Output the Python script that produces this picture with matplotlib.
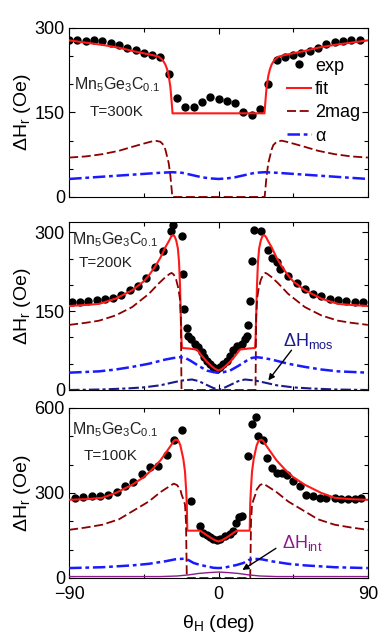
import matplotlib
matplotlib.use("Agg")
import matplotlib.pyplot as plt
from matplotlib.ticker import MultipleLocator

plt.rcParams['font.family'] = ['Liberation Sans', 'DejaVu Sans']
plt.rcParams['mathtext.default'] = 'regular'
plt.rcParams['axes.unicode_minus'] = True

# ---- panel 1, T=300K ----
th1_exp = [-90, -85, -80, -75, -70, -65, -60, -55, -50, -45, -40, -35, -30, -25, -20, -15, -10, -5,
           0, 5, 10, 15, 20, 25, 30, 35, 40, 45, 50, 55, 60, 65, 70, 75, 80, 85]
v1_exp = [279, 279, 277, 279, 276, 274, 270, 264, 261, 255, 252, 248, 218, 176, 160, 160, 168, 178,
          174, 170, 166, 150, 146, 156, 200, 243, 248, 252, 255, 259, 264, 271, 275, 277, 279, 279]
th1_fit = [-90, -80, -70, -60, -50, -40, -36, -34, -33, -32, -31, -30, -29, -28.5, -28, -27.7,
           27.7, 28, 28.5, 29, 30, 31, 32, 33, 34, 36, 40, 50, 60, 70, 80, 90]
v1_fit = [278, 274, 270, 265, 258, 252, 249, 244, 240, 235, 227, 215, 195, 178, 160, 148.5,
          148.5, 160, 178, 195, 215, 227, 235, 240, 244, 249, 252, 258, 265, 270, 274, 278]
th1_2mag = [-90, -80, -70, -60, -52, -46, -41, -38, -35, -33, -32, -31, -30, -29, -28.5, -27.8,
            27.8, 28.5, 29, 30, 31, 32, 33, 35, 38, 41, 46, 52, 60, 70, 80, 90]
v1_2mag = [70, 72, 76, 82, 89, 94, 98, 100, 98, 92, 84, 72, 60, 38, 22, 0,
           0, 22, 38, 60, 72, 84, 92, 98, 100, 98, 94, 89, 82, 76, 72, 70]
th1_a = [-90, -75, -60, -45, -35, -28, -22, -16, -10, -5, 0, 5, 10, 16, 22, 28, 35, 45, 60, 75, 90]
v1_a = [32, 35, 38, 41, 43, 44, 43, 39, 35, 33, 32, 33, 35, 39, 43, 44, 43, 41, 38, 35, 32]

# ---- panel 2, T=200K ----
th2_exp = [-88.5, -83.5, -78.5, -73.5, -68.5, -63.5, -58.5, -53.5, -48.5, -43.5, -38.5, -33.5,
           -28.6, -27.6, -22.2, -21.2, -20.5, -19.1, -18.2, -16.7, -14.1, -12.1, -10.1, -8.7,
           -7.1, -5.1, -3.1, -1.1, 0.9, 2.9, 4.9, 6.9, 8.9, 11.3, 14, 16, 17.3, 17.9, 19, 20,
           21.5, 25.5, 30, 32, 35, 37, 42, 47, 52, 57, 62, 67, 72, 77, 82, 87]
v2_exp = [167, 168, 169, 171, 173, 176, 181, 190, 199, 213, 235, 264,
          302, 314, 293, 221, 154, 119, 103, 97, 88, 81, 72, 62,
          56, 50, 43, 40, 43, 50, 56, 65, 77, 83, 88, 97, 103, 123, 170, 246,
          305, 302, 266, 251, 243, 231, 217, 204, 192, 183, 179, 174, 171, 169, 167, 167]
th2_fit = [-90, -80, -72, -62, -52, -45, -42, -38, -35, -32, -30, -28.5, -27.5, -26.5, -25.5,
           -24.5, -23.8, -23.2, -22.7, -22.3, -22, -18, -13, -10, -7, -4, -2, 0,
           2, 4, 7, 10, 13, 18, 22, 22.3, 22.7, 23.2, 23.8, 24.5, 25.5, 26.5, 27.5, 28.5, 30,
           32, 35, 38, 42, 45, 52, 62, 72, 80, 90]
v2_fit = [160, 162, 164, 174, 190, 207, 218, 236, 252, 272, 283, 292, 295, 293, 285,
          270, 245, 200, 140, 95, 80, 79, 77, 65, 54, 45, 40, 37,
          40, 45, 54, 65, 77, 79, 80, 95, 140, 200, 245, 270, 285, 293, 295, 292, 283,
          272, 252, 236, 218, 207, 190, 174, 164, 162, 160]
th2_2mag = [-90, -80, -72, -62, -52, -42, -36, -32, -29.5, -28.3, -27, -25.5, -24.3, -23.3, -22.7,
            -22.3, 22.3, 22.7, 23.3, 24.3, 25.5, 27, 28.3, 29.5, 32, 36, 42, 52, 62, 72, 80, 90]
v2_2mag = [124, 128, 132, 142, 158, 183, 203, 215, 221, 223, 220, 210, 195, 175, 140,
           0, 0, 140, 175, 195, 210, 220, 223, 221, 215, 203, 183, 158, 142, 132, 128, 124]
th2_a = [-90, -72, -62, -52, -42, -32, -27, -23, -20, -17, -12, -7, -3, 0,
         3, 7, 12, 17, 20, 23, 27, 32, 42, 52, 62, 72, 90]
v2_a = [33, 35.5, 39, 44, 50, 58, 61, 62.5, 61, 56, 46, 37, 34, 33,
        34, 37, 46, 56, 61, 62.5, 61, 58, 50, 44, 39, 35.5, 33]
th2_mos = [-90, -70, -55, -45, -35, -28, -22, -16, -12, -8, -4, 0,
           4, 8, 12, 16, 22, 28, 35, 45, 55, 70, 90]
v2_mos = [0, 1, 3, 5, 9, 14, 18, 20, 17, 11, 5, 0,
          5, 11, 17, 20, 18, 14, 9, 5, 3, 1, 0]

# ---- panel 3, T=100K ----
th3_exp = [-86.4, -81.4, -76.3, -71.3, -66.3, -61.3, -56.3, -51.3, -46.2, -41.2, -36.2, -31.2,
           -26.6, -21.8, -16.4, -11.3, -9.1, -7.1, -5.1, -3.1, -1.1, 0.9, 3.9, 6.9, 8.6, 10.5,
           12.5, 14, 18, 20, 22.4, 24, 27, 29.5, 32.4, 35, 38, 41, 45, 49, 53, 57, 61, 65,
           70, 74, 78, 82, 86]
v3_exp = [284, 285, 288, 288, 294, 303, 323, 339, 368, 390, 396, 435,
          488, 523, 270, 182, 159, 153, 143, 139, 135, 139, 147, 155, 165, 194,
          217, 220, 429, 543, 567, 500, 488, 423, 388, 370, 370, 365, 341, 323, 294, 288, 284, 282,
          282, 279, 279, 279, 282]
th3_fit = [-90, -80, -70, -62, -52, -45, -40, -35, -32, -29, -27, -26, -25, -24, -23, -22.2,
           -21.2, -20.2, -19.5, -19.1, -18.8, -15, -11, -8, -5, -2, 0,
           2, 5, 8, 11, 15, 18.8, 19.1, 19.5, 20.2, 21.2, 22.2, 23, 24, 25, 26, 27, 29, 32,
           35, 40, 45, 52, 62, 70, 80, 90]
v3_fit = [276, 278, 283, 300, 329, 356, 383, 415, 440, 465, 483, 488, 487, 482, 468, 447,
          420, 376, 310, 259, 167, 167, 167, 155, 143, 133, 129,
          133, 143, 155, 167, 167, 167, 259, 310, 376, 420, 447, 468, 482, 487, 488, 483, 465, 440,
          415, 383, 356, 329, 300, 283, 278, 276]
th3_2mag = [-90, -80, -70, -60, -52, -42, -35, -30, -27, -25, -23, -22.2, -21.2, -20.2, -19.6,
            -19.1, 19.1, 19.6, 20.2, 21.2, 22.2, 23, 25, 27, 30, 35, 42, 52, 60, 70, 80, 90]
v3_2mag = [170, 178, 188, 207, 235, 270, 303, 322, 333, 328, 312, 294, 278, 259, 200,
           0, 0, 200, 259, 278, 294, 312, 328, 333, 322, 303, 270, 235, 207, 188, 178, 170]
th3_a = [-90, -70, -52, -42, -32, -26, -21, -18, -15, -11, -7, -3, 0,
         3, 7, 11, 15, 18, 21, 26, 32, 42, 52, 70, 90]
v3_a = [35, 38, 44.5, 50, 59, 66, 68, 63, 53, 46, 41, 36, 35,
        36, 41, 46, 53, 63, 68, 66, 59, 50, 44.5, 38, 35]
th3_int = [-90, -35, -25, -18, -12, -6, 0, 6, 12, 18, 25, 35, 90]
v3_int = [5, 5, 7, 11, 16, 19, 21, 19, 16, 11, 7, 5, 5]

c_fit = '#ff1a1a'
c_2mag = '#8b0000'
c_a = '#1a1aff'
c_mos = '#1a1a8c'
c_int = '#8b1a8b'

fig = plt.figure(figsize=(3.82, 6.33), dpi=100)
ax1 = fig.add_axes([0.181, 0.6888, 0.782, 0.2670])
ax2 = fig.add_axes([0.181, 0.3839, 0.782, 0.2654])
ax3 = fig.add_axes([0.181, 0.0869, 0.782, 0.2686])

panels = [
    (ax1, th1_exp, v1_exp, th1_fit, v1_fit, th1_2mag, v1_2mag, th1_a, v1_a, 300, 150, 50, 'T=300K'),
    (ax2, th2_exp, v2_exp, th2_fit, v2_fit, th2_2mag, v2_2mag, th2_a, v2_a, 320, 150, 50, 'T=200K'),
    (ax3, th3_exp, v3_exp, th3_fit, v3_fit, th3_2mag, v3_2mag, th3_a, v3_a, 600, 300, 100, 'T=100K'),
]
sample_pos = [((0.015, 0.663), (0.159, 0.503)),
              ((0.009, 0.893), (0.123, 0.756)),
              ((0.009, 0.870), (0.140, 0.718))]

for i, (ax, te, ve, tf, vf, tm, vm, ta, va, ytop, ymaj, ymin, tlab) in enumerate(panels):
    ax.plot(te, ve, 'o', color='black', ms=5, label='exp', zorder=2)
    ax.plot(tf, vf, '-', color=c_fit, lw=1.5, label='fit', zorder=3)
    ax.plot(tm, vm, color=c_2mag, lw=1.3, dashes=(5, 2), label='2mag', zorder=3)
    ax.plot(ta, va, color=c_a, lw=1.8, dashes=(5, 1.5, 1.5, 1.5), label='α', zorder=3)
    ax.set_xlim(-90, 90)
    ax.set_ylim(0, ytop)
    ax.xaxis.set_major_locator(MultipleLocator(90))
    ax.xaxis.set_minor_locator(MultipleLocator(45))
    ax.yaxis.set_major_locator(MultipleLocator(ymaj))
    ax.yaxis.set_minor_locator(MultipleLocator(ymin))
    ax.tick_params(which='both', direction='in', top=True, right=True, labelsize=13, pad=3)
    ax.tick_params(which='major', length=4, width=0.8)
    ax.tick_params(which='minor', length=3, width=0.8)
    ax.set_ylabel('ΔH$_r$ (Oe)', fontsize=14, labelpad=1)
    if ax is not ax3:
        ax.tick_params(labelbottom=False)
    (mx, my), (tx, ty) = sample_pos[i]
    ax.text(mx, my, 'Mn$_5$Ge$_3$C$_{0.1}$', transform=ax.transAxes, fontsize=11.5,
            ha='left', va='center', color='#222222')
    ax.text(tx, ty, tlab, transform=ax.transAxes, fontsize=11, ha='center', va='center',
            color='#222222')

ax2.plot(th2_mos, v2_mos, color=c_mos, lw=1.5, dashes=(5, 1.5, 1.5, 1.5), zorder=3)
ax2.text(54, 94, 'ΔH$_{mos}$', color=c_mos, fontsize=13, ha='center', va='center')
ax2.annotate('', xy=(29, 14), xytext=(45, 80),
             arrowprops=dict(arrowstyle='-|>', color='black', lw=1, mutation_scale=9))

ax3.plot(th3_int, v3_int, color=c_int, lw=1.0, zorder=3)
ax3.text(50.5, 125, 'ΔH$_{int}$', color=c_int, fontsize=13, ha='center', va='center')
ax3.annotate('', xy=(13, 23), xytext=(36, 110),
             arrowprops=dict(arrowstyle='-|>', color='black', lw=1, mutation_scale=9))

ax1.legend(loc='upper left', bbox_to_anchor=(0.73, 0.825), borderaxespad=0, borderpad=0,
           frameon=False, fontsize=13, handlelength=1.3, handletextpad=0.25, labelspacing=0.35)

ax3.set_xticks([-90, 0, 90])
ax3.tick_params(axis='x', which='major', pad=6)
ax3.set_xlabel('θ$_H$ (deg)', fontsize=14, labelpad=7)

fig.savefig('out.png', dpi=100)
